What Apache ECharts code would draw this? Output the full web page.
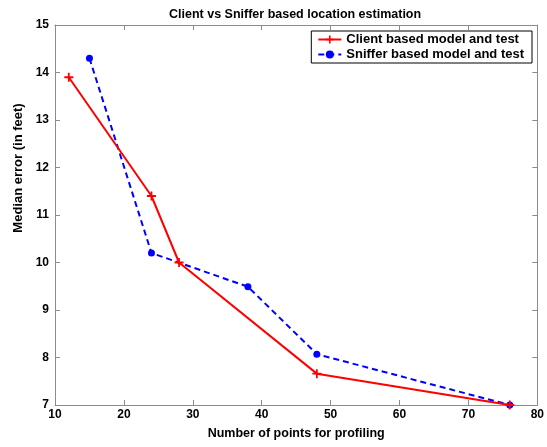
<!DOCTYPE html>
<html>
<head>
<meta charset="utf-8">
<script src="https://cdn.jsdelivr.net/npm/echarts@6/dist/echarts.min.js"></script>
<style>
  html, body { margin: 0; padding: 0; background: #fff; }
  #main { width: 547px; height: 447px; }
</style>
</head>
<body>
<div id="main"></div>
<script>
// data
const clientX = [12, 24, 28, 48, 76];
const clientY = [13.9, 11.4, 10.0, 7.66, 7.0];
const snifferX = [15, 24, 38, 48, 76];
const snifferY = [14.3, 10.2, 9.49, 8.07, 7.0];
const seriesNames = ["Client based model and test", "Sniffer based model and test"];

const pairs = (xs, ys) => xs.map((x, i) => [x, ys[i]]);
const font = "Liberation Sans, Arial, sans-serif";
const axisGray = "#8c8c8c";

const chart = echarts.init(document.getElementById("main"));

const baseAxis = {
  axisLine: { show: true, lineStyle: { color: axisGray, width: 1 } },
  axisTick: { show: true, inside: true, length: 5, lineStyle: { color: axisGray } },
  splitLine: { show: false },
  axisLabel: { color: "#000", fontFamily: font, fontWeight: "bold", fontSize: 12 }
};

const option = {
  backgroundColor: "#fff",
  animation: false,
  title: {
    text: "Client vs Sniffer based location estimation",
    left: 164,
    top: 3,
    textStyle: { color: "#000", fontFamily: font, fontWeight: "bold", fontSize: 12.5 }
  },
  grid: { left: 55, right: 9, top: 25, bottom: 42 },
  legend: {
    orient: "vertical",
    right: 15,
    top: 31,
    data: seriesNames,
    backgroundColor: "#fff",
    borderColor: "#000",
    borderWidth: 1,
    padding: [2, 8, 2, 6],
    itemGap: 2,
    itemWidth: 23,
    itemHeight: 10,
    textStyle: { color: "#000", fontFamily: font, fontWeight: "bold", fontSize: 13 }
  },
  xAxis: [
    Object.assign({}, baseAxis, {
      type: "value",
      min: 10,
      max: 80,
      interval: 10,
      name: "Number of points for profiling",
      nameLocation: "middle",
      nameGap: 22,
      nameTextStyle: { color: "#000", fontFamily: font, fontWeight: "bold", fontSize: 12.5 },
      axisLabel: Object.assign({}, baseAxis.axisLabel, { margin: 4 })
    }),
    Object.assign({}, baseAxis, {
      type: "value",
      position: "top",
      min: 10,
      max: 80,
      interval: 10,
      axisLabel: { show: false }
    })
  ],
  yAxis: [
    Object.assign({}, baseAxis, {
      type: "value",
      min: 7,
      max: 15,
      interval: 1,
      name: "Median error (in feet)",
      nameLocation: "middle",
      nameGap: 27,
      nameTextStyle: {
        color: "#000", fontFamily: font, fontWeight: "bold", fontSize: 13,
        padding: [0, 0, 0, 94]
      },
      axisLabel: Object.assign({}, baseAxis.axisLabel, { margin: 6 })
    }),
    Object.assign({}, baseAxis, {
      type: "value",
      position: "right",
      min: 7,
      max: 15,
      interval: 1,
      axisLabel: { show: false }
    })
  ],
  series: [
    {
      name: seriesNames[0],
      type: "line",
      data: pairs(clientX, clientY),
      color: "#ff0000",
      lineStyle: { width: 2, type: "solid" },
      symbol: "path://M4,0H6V4H10V6H6V10H4V6H0V4H4Z",
      symbolSize: 9,
      itemStyle: { color: "#ff0000" },
      z: 3
    },
    {
      name: seriesNames[1],
      type: "line",
      data: pairs(snifferX, snifferY),
      color: "#0000ff",
      lineStyle: { width: 2, type: [6, 4] },
      symbol: "circle",
      symbolSize: 7,
      itemStyle: { color: "#0000ff" },
      z: 2
    }
  ]
};

chart.setOption(option);
</script>
</body>
</html>
